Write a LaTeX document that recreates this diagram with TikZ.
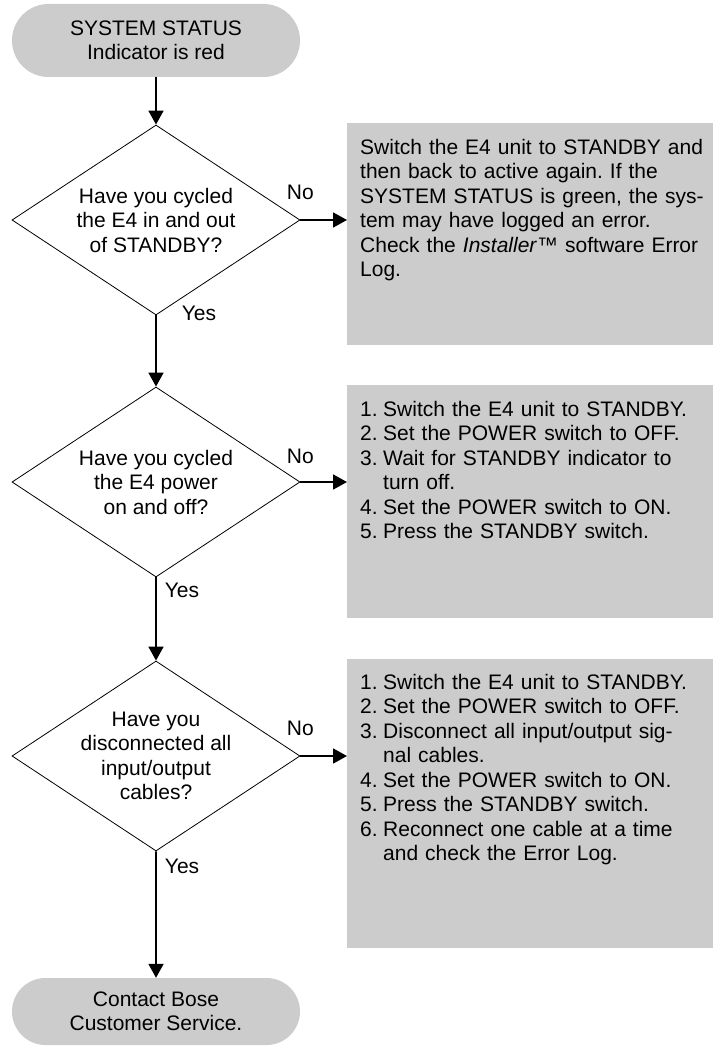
\documentclass[tikz,border=0pt]{standalone}
\usepackage{fontspec}
\setmainfont{Liberation Sans}
\usetikzlibrary{shapes.geometric, shapes.misc, arrows.meta}
\definecolor{panelgray}{RGB}{204,204,204}
\setlength{\parindent}{0pt}
\frenchspacing
\newcommand{\numstep}[2]{\hangindent=23pt\hangafter=1\noindent\makebox[23pt][l]{#1}#2\par}
\tikzset{
    terminal/.style={rounded rectangle, fill=panelgray, minimum width=288pt, inner sep=0pt, align=center},
    decision/.style={diamond, draw=black, line width=0.8pt, minimum width=288pt, minimum height=190pt, inner sep=-20pt, align=center},
    panel/.style={fill=panelgray, anchor=north west, minimum width=366pt, inner sep=0pt},
    paneltext/.style={anchor=north west, inner sep=0pt, text width=350pt, align=left},
    flow/.style={line width=1.8pt, -{Triangle[length=14pt, width=15pt]}},
    answer/.style={inner sep=0pt}
}

\begin{document}
\begin{tikzpicture}[x=1pt, y=-1pt, font=\fontsize{21}{24.5}\selectfont]
    \useasboundingbox (0,0) rectangle (713,1048);

    \node[terminal, minimum height=73pt] (start) at (156,40.5) {SYSTEM STATUS\\Indicator is red};
    \node[decision] (q1) at (156,220) {Have you cycled\\the E4 in and out\\of STANDBY?};
    \node[decision] (q2) at (156,482) {Have you cycled\\the E4 power\\on and off?};
    \node[decision] (q3) at (156,756) {Have you\\disconnected all\\input/output\\cables?};
    \node[terminal, minimum height=67pt] (stop) at (156,1011.5) {Contact Bose\\Customer Service.};

    % grey panels with what to do
    \node[panel, minimum height=222pt] (act1) at (347,123) {};
    \node[panel, minimum height=233pt] (act2) at (347,385) {};
    \node[panel, minimum height=289pt] (act3) at (347,659) {};

    \node[paneltext] (txt1) at ([shift={(13,16)}]act1.north west) {%
        Switch the E4 unit to STANDBY and\\then back to active again. If the\\
        SYSTEM STATUS is green, the sys-\\tem may have logged an error.\\
        Check the \textit{Installer}™ software Error\\Log.};
    \node[paneltext] (txt2) at ([shift={(13,16)}]act2.north west) {%
        \numstep{1.}{Switch the E4 unit to STANDBY.}
        \numstep{2.}{Set the POWER switch to OFF.}
        \numstep{3.}{Wait for STANDBY indicator to\newline turn off.}
        \numstep{4.}{Set the POWER switch to ON.}
        \numstep{5.}{Press the STANDBY switch.}};
    \node[paneltext] (txt3) at ([shift={(13,15)}]act3.north west) {%
        \numstep{1.}{Switch the E4 unit to STANDBY.}
        \numstep{2.}{Set the POWER switch to OFF.}
        \numstep{3.}{Disconnect all input/output sig-\newline nal cables.}
        \numstep{4.}{Set the POWER switch to ON.}
        \numstep{5.}{Press the STANDBY switch.}
        \numstep{6.}{Reconnect one cable at a time\newline and check the Error Log.}};

    \draw[flow] (start) -- (q1);
    \draw[flow] (q1) -- node[answer, at start, anchor=west, xshift=25pt, yshift=2pt] {Yes} (q2);
    \draw[flow] (q2) -- node[answer, at start, anchor=west, xshift=8pt, yshift=-13pt] {Yes} (q3);
    \draw[flow] (q3) -- node[answer, at start, anchor=west, xshift=8pt, yshift=-15pt] {Yes} (stop);

    \draw[flow] (q1.east) -- node[answer, at start, above=19pt] {No} (q1.east -| act1.west);
    \draw[flow] (q2.east) -- node[answer, at start, above=17pt] {No} (q2.east -| act2.west);
    \draw[flow] (q3.east) -- node[answer, at start, above=19pt] {No} (q3.east -| act3.west);
\end{tikzpicture}
\end{document}
